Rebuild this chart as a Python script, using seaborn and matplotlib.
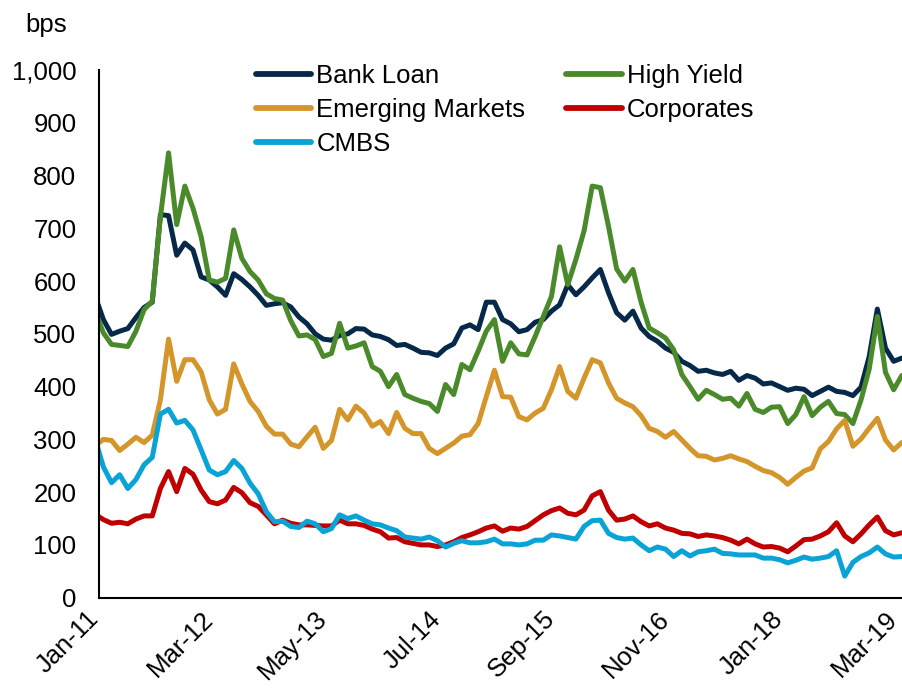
import numpy as np
import pandas as pd
import matplotlib
matplotlib.use("Agg")
import matplotlib.pyplot as plt
import matplotlib.transforms as mtransforms
import seaborn as sns

# Month-end spreads in bps, Dec-10 through Mar-19 (one value per month)
bank_loan = [571, 527, 499, 505, 510, 531, 550, 560, 726, 724,
             649, 672, 659, 608, 602, 589, 573, 614, 603, 589,
             573, 554, 557, 559, 551, 532, 519, 500, 490, 488,
             497, 500, 510, 509, 498, 495, 489, 478, 480, 473,
             465, 464, 459, 473, 481, 511, 517, 508, 560, 560,
             527, 519, 504, 508, 522, 527, 543, 555, 593, 574,
             589, 606, 622, 578, 540, 526, 543, 511, 495, 486,
             473, 465, 448, 440, 429, 431, 426, 423, 429, 412,
             421, 416, 405, 407, 400, 393, 397, 395, 383, 391,
             399, 391, 389, 383, 399, 457, 547, 473, 448, 454]

high_yield = [542, 502, 480, 478, 476, 505, 546, 562, 722, 843,
              707, 780, 738, 684, 602, 598, 605, 697, 643, 618,
              602, 576, 567, 564, 525, 496, 498, 489, 457, 463,
              520, 473, 477, 483, 438, 429, 400, 423, 385, 378,
              372, 368, 353, 404, 385, 442, 432, 467, 505, 527,
              448, 483, 462, 460, 495, 533, 571, 665, 593, 641,
              695, 780, 777, 704, 623, 600, 622, 560, 511, 502,
              492, 470, 423, 400, 376, 393, 385, 376, 378, 363,
              387, 357, 351, 361, 362, 330, 347, 381, 345, 361,
              372, 349, 347, 330, 375, 433, 533, 427, 394, 421]

emerging_markets = [288, 300, 298, 279, 291, 304, 294, 308, 375, 490,
                    410, 451, 451, 428, 375, 348, 357, 443, 405, 372,
                    353, 325, 310, 310, 291, 286, 305, 323, 283, 298,
                    357, 337, 363, 350, 325, 334, 311, 351, 321, 311,
                    311, 283, 273, 283, 293, 306, 309, 330, 381, 431,
                    381, 380, 343, 337, 350, 359, 394, 438, 391, 378,
                    416, 451, 445, 407, 378, 369, 362, 345, 321, 315,
                    304, 315, 299, 283, 269, 268, 261, 264, 269, 263,
                    258, 249, 241, 237, 228, 215, 228, 240, 246, 282,
                    296, 320, 336, 287, 301, 321, 340, 299, 280, 294]

corporates = [158, 148, 141, 143, 140, 149, 155, 155, 207, 239,
              201, 245, 234, 204, 182, 178, 185, 209, 199, 180,
              173, 157, 140, 147, 141, 138, 138, 137, 136, 136,
              147, 140, 140, 137, 130, 125, 113, 114, 106, 103,
              100, 100, 97, 100, 106, 114, 119, 125, 132, 136,
              126, 132, 130, 135, 146, 157, 165, 170, 160, 157,
              166, 193, 201, 166, 147, 149, 155, 144, 136, 140,
              132, 128, 122, 121, 116, 119, 117, 114, 109, 102,
              111, 102, 96, 97, 94, 87, 98, 110, 111, 117,
              125, 142, 117, 106, 121, 138, 153, 127, 119, 123]

cmbs = [300, 248, 218, 233, 207, 224, 252, 266, 348, 357,
        331, 336, 318, 280, 242, 233, 239, 260, 245, 217,
        197, 163, 144, 145, 135, 133, 145, 140, 125, 131,
        157, 150, 155, 147, 140, 138, 132, 127, 115, 113,
        111, 115, 108, 96, 103, 108, 104, 104, 106, 111,
        102, 102, 100, 102, 109, 109, 119, 117, 114, 111,
        135, 146, 147, 122, 114, 111, 113, 100, 89, 96,
        92, 78, 89, 79, 87, 89, 92, 84, 83, 81,
        81, 81, 75, 75, 72, 66, 71, 77, 73, 75,
        78, 89, 41, 67, 78, 85, 96, 83, 77, 78]

series_names = ["Bank Loan", "High Yield", "Emerging Markets", "Corporates", "CMBS"]
series_values = [bank_loan, high_yield, emerging_markets, corporates, cmbs]
series_colors = ["#06294a", "#4a8a2b", "#d4962a", "#c00000", "#0aa3d6"]

tick_labels = ["Jan-11", "Mar-12", "May-13", "Jul-14", "Sep-15",
               "Nov-16", "Jan-18", "Mar-19"]
y_ticks = [0, 100, 200, 300, 400, 500, 600, 700, 800, 900, 1000]

# Month-end observations sit half a month before the next month's tick
n = len(bank_loan)
month_pos = np.arange(n) - 0.5

frames = [pd.DataFrame({"month": month_pos, "bps": vals, "series": name})
          for name, vals in zip(series_names, series_values)]
data = pd.concat(frames, ignore_index=True)

sns.set_theme(style="white")
plt.rcParams["font.family"] = ["Liberation Sans", "DejaVu Sans"]
plt.rcParams["text.color"] = "black"
FS = 18.5

fig = plt.figure(figsize=(9.03, 6.95), dpi=100)
ax = fig.add_axes([99.3 / 903, 1 - 597.7 / 695, 1 - 99.3 / 903, (597.7 - 70) / 695])

sns.lineplot(data=data, x="month", y="bps", hue="series",
             hue_order=series_names, palette=series_colors,
             linewidth=3.6, ax=ax, legend=False, sort=False)
for line in ax.get_lines():
    line.set_solid_capstyle("round")
    line.set_solid_joinstyle("round")

ax.set_xlim(0, 98.65)
ax.set_ylim(0, 1000)
tick_pos = np.arange(0, 14 * len(tick_labels), 14)
ax.set_xticks(tick_pos)
ax.set_xticklabels([])
ax.set_yticks(y_ticks)
ax.set_yticklabels([f"{v:,}" for v in y_ticks], fontsize=FS)
ax.set_xlabel("")
ax.set_ylabel("")

# rotated date labels, anchored just below each tick and nudged slightly left
label_tr = ax.get_xaxis_transform() + mtransforms.ScaledTranslation(
    -4 / 100, -17.5 / 100, fig.dpi_scale_trans)
for pos, lab in zip(tick_pos, tick_labels):
    ax.text(pos, 0, lab, transform=label_tr, rotation=45, ha="right",
            va="center", rotation_mode="anchor", fontsize=FS,
            color="black", clip_on=False)

for side in ["top", "right"]:
    ax.spines[side].set_visible(False)
for side in ["left", "bottom"]:
    ax.spines[side].set_color("black")
    ax.spines[side].set_linewidth(1.5)
    ax.spines[side].set_zorder(5)
ax.tick_params(axis="both", direction="out", length=5.5, width=1.5,
               color="black", labelcolor="black")
ax.tick_params(axis="y", pad=11)
ax.grid(False)

fig.text(25 / 903, 1 - 25 / 695, "bps", fontsize=FS, ha="left", va="center",
         color="black")

lines = {name: line for name, line in zip(series_names, ax.get_lines())}
order = ["Bank Loan", "Emerging Markets", "CMBS", "High Yield", "Corporates"]
handles = []
for name in order:
    h = matplotlib.lines.Line2D([], [], color=lines[name].get_color(),
                                linewidth=4.2, solid_capstyle="round")
    handles.append(h)
leg = fig.legend(handles, order, loc="upper left",
                 bbox_to_anchor=(256 / 903, 1 - 64 / 695),
                 ncol=2, frameon=False, fontsize=FS, borderpad=0,
                 borderaxespad=0, handlelength=2.15, handletextpad=0.2,
                 columnspacing=1.6, labelspacing=0.39)
for t in leg.get_texts():
    t.set_color("black")

fig.savefig("out.png", dpi=100)
